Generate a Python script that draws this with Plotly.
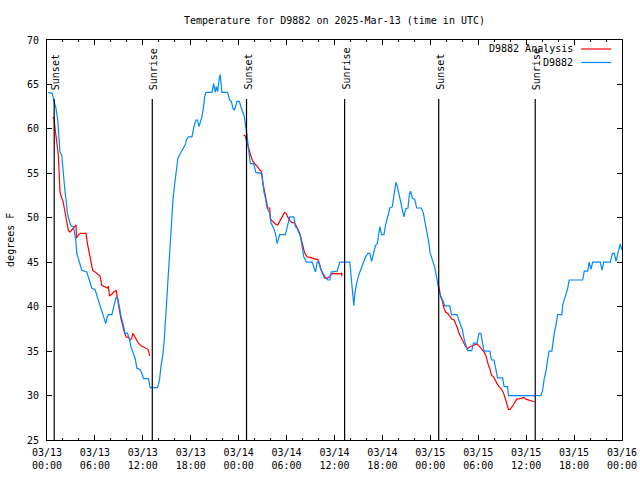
import pandas as pd
import plotly.graph_objects as go

START = "2025-03-13 00:00"

# Observations (hours since start, deg F)
obs_hours = [0.16, 0.66, 0.88, 1.13, 1.34, 1.51, 1.63, 1.84, 1.97, 2.13, 2.26, 2.45, 2.55, 2.82, 2.97,
             3.30, 3.51, 3.60, 3.73, 4.05, 4.35, 4.98, 5.27, 5.61, 6.02, 6.31, 6.65, 7.06, 7.36, 7.49,
             7.69, 8.12, 8.40, 8.66, 8.87, 9.03, 9.28, 9.57, 9.78, 10.07, 10.32, 10.50, 10.75, 11.04,
             11.25, 11.67, 11.88, 12.08, 12.71, 12.92, 13.84, 14.09, 14.26, 14.51, 14.68, 14.93, 15.09,
             15.27, 15.43, 15.62, 15.77, 15.97, 16.14, 16.27, 16.40, 16.60, 16.90, 17.10, 17.31, 17.52,
             17.72, 18.15, 18.28, 18.44, 18.65, 18.85, 19.03, 19.19, 19.41, 19.61, 19.73, 19.91, 20.66,
             20.86, 21.07, 21.20, 21.36, 21.58, 21.68, 21.91, 22.62, 22.87, 23.08, 23.29, 23.46, 23.80,
             24.08, 24.34, 24.55, 24.71, 24.88, 25.05, 25.25, 25.46, 25.88, 26.15, 26.91, 27.03, 27.16,
             27.35, 27.56, 27.89, 28.06, 28.39, 28.60, 28.81, 29.14, 29.85, 30.14, 30.39, 30.90, 31.11,
             31.32, 31.52, 31.74, 31.95, 32.15, 32.49, 33.20, 33.40, 33.62, 33.83, 34.03, 34.25, 34.46,
             34.78, 35.16, 35.41, 35.59, 36.34, 36.67, 37.92, 38.10, 38.26, 38.42, 38.55, 38.76, 39.05,
             39.26, 39.55, 39.89, 40.18, 40.43, 40.64, 40.86, 41.14, 41.36, 41.56, 41.68, 41.90, 42.19,
             42.40, 42.69, 42.94, 43.24, 43.44, 43.69, 43.87, 44.07, 44.28, 44.49, 44.69, 44.91, 45.20,
             45.37, 45.53, 45.75, 46.04, 46.29, 46.88, 47.13, 47.33, 47.63, 47.83, 47.96, 48.17, 48.38,
             48.58, 48.76, 48.88, 49.09, 49.34, 49.57, 49.80, 50.43, 50.65, 51.34, 51.56, 51.81, 52.02,
             52.22, 52.43, 52.66, 53.19, 53.40, 53.85, 54.10, 54.32, 54.53, 54.73, 55.44, 55.66, 55.98,
             56.20, 56.41, 57.04, 57.24, 57.67, 57.79, 61.84, 62.06, 62.26, 62.47, 62.68, 62.88, 63.22,
             63.39, 63.51, 63.73, 63.94, 64.48, 64.57, 64.77, 64.98, 65.19, 65.39, 67.07, 67.28, 67.70,
             67.90, 68.12, 68.33, 69.28, 69.50, 69.71, 70.54, 70.79, 71.04, 71.25, 71.54, 71.79, 71.97]
obs_temp = [64.1, 64.0, 63.1, 62.3, 61.0, 58.75, 57.4, 57.1, 55.6, 53.9, 52.9, 51.5, 50.5, 49.6, 49.1,
            49.0, 47.9, 47.5, 46.0, 44.9, 44.1, 43.9, 43.0, 42.1, 41.9, 41.1, 40.0, 39.1, 38.1, 38.7,
            39.1, 39.1, 40.0, 41.1, 40.9, 40.0, 38.9, 37.9, 37.0, 37.0, 36.4, 35.5, 34.9, 34.2,
            33.1, 32.9, 32.5, 31.9, 31.9, 30.9, 30.9, 31.75, 33.25, 34.6, 36.25, 40.0, 42.25,
            44.5, 47.6, 50.1, 52.0, 53.7, 55.0, 55.75, 56.7, 57.1, 57.6, 58.0, 58.2, 58.9,
            59.1, 59.1, 59.9, 60.4, 61.0, 61.0, 60.25, 60.8, 61.4, 62.5, 63.6, 64.1, 64.1,
            65.1, 64.1, 64.75, 64.2, 65.7, 66.1, 64.1, 64.1, 63.25, 63.1, 62.3, 62.1, 63.1,
            63.1, 62.3, 61.9, 61.4, 60.25, 59.3, 57.6, 56.1, 56.1, 55.1, 55.0, 53.9, 52.9,
            52.2, 51.1, 50.5, 49.4, 48.8, 48.25, 47.1, 48.1, 48.1, 49.4, 50.1, 50.1, 49.0,
            48.8, 48.25, 47.9, 46.75, 45.6, 45.0, 45.0, 44.5, 43.9, 45.0, 45.0, 44.3, 43.9,
            43.4, 43.0, 43.0, 43.9, 44.0, 45.0, 45.0, 43.2, 41.5, 40.1, 41.5, 42.6, 43.6,
            44.1, 44.7, 45.6, 46.0, 46.0, 45.1, 46.0, 46.9, 47.1, 48.1, 49.0, 48.1, 48.1,
            49.2, 50.1, 51.1, 51.25, 52.6, 54.0, 53.5, 52.6, 51.6, 50.7, 50.1, 51.0, 51.1,
            52.6, 53.0, 52.2, 52.1, 51.1, 51.1, 50.5, 49.6, 48.25, 47.1, 46.1, 45.6, 44.9,
            44.3, 43.4, 42.7, 41.8, 41.1, 40.7, 40.1, 40.1, 39.1, 39.1, 38.5, 38.0, 37.4,
            36.4, 35.6, 35.05, 35.05, 35.9, 35.9, 37.0, 37.0, 36.1, 35.0, 35.0, 34.0, 34.0,
            33.1, 32.0, 32.0, 31.0, 31.0, 30.0, 30.0, 30.6, 31.9, 32.7, 34.0, 35.0, 35.0,
            36.25, 37.0, 37.9, 39.1, 39.1, 40.2, 40.8, 41.4, 42.0, 43.0, 43.0, 44.0, 44.0,
            45.0, 44.2, 45.0, 45.0, 44.1, 45.0, 45.0, 46.0, 46.0, 45.1, 46.2, 47.05, 46.4]

# Analysis (hours since start, deg F); None separates the three night segments
ana_hours = [0.72, 0.88, 1.00, 1.22, 1.42, 1.54, 1.63, 1.84, 1.97, 2.13, 2.26, 2.38, 2.55, 2.67, 2.89,
             3.30, 3.64, 3.68, 3.93, 4.20, 4.89, 5.06, 5.31, 5.48, 5.73, 6.02, 6.31, 6.65, 6.86, 7.28,
             7.56, 7.69, 7.82, 8.12, 8.40, 8.66, 8.82, 8.94, 9.07, 9.25, 9.45, 9.66, 9.91, 10.20, 10.41,
             10.62, 10.75, 10.95, 11.25, 11.45, 11.79, 12.08, 12.42, 12.63, 12.76, 12.83, None,
             24.62, 24.84, 24.96, 25.13, 25.38, 25.55, 25.80, 26.09, 26.31, 26.63, 26.84, 27.01, 27.13,
             27.26, 27.43, 27.64, 27.89, 27.97, 28.31, 28.60, 28.89, 29.14, 29.44, 29.73, 29.94, 30.14,
             30.39, 30.69, 30.98, 31.20, 31.45, 31.65, 31.86, 32.08, 32.28, 32.58, 32.99, 33.40, 33.91,
             34.16, 34.33, 34.58, 34.78, 35.09, 35.41, 35.71, 36.13, 36.42, 36.75, 36.88, 36.92, None,
             48.96, 49.09, 49.30, 49.51, 49.71, 49.92, 50.21, 50.46, 50.68, 50.97, 51.18, 51.39, 51.59,
             51.81, 52.02, 52.22, 52.43, 52.69, 52.97, 53.27, 53.56, 53.81, 53.98, 54.23, 54.53, 54.73,
             54.94, 55.07, 55.28, 55.48, 55.66, 55.91, 56.07, 56.32, 56.61, 56.91, 57.16, 57.33, 57.58,
             57.79, 57.99, 58.29, 58.58, 58.83, 59.25, 59.55, 59.75, 59.96, 60.25, 60.59, 61.00]
ana_temp = [61.3, 61.2, 60.1, 58.75, 57.1, 54.6, 52.9, 52.2, 52.0, 51.25, 50.7, 49.9, 49.2, 48.6, 48.4,
            48.8, 49.2, 47.7, 48.1, 48.25, 48.25, 47.1, 46.0, 45.1, 44.05, 43.9, 43.7, 43.45, 42.4, 42.2,
            42.1, 42.3, 41.2, 41.4, 41.7, 41.8, 41.1, 40.3, 39.6, 38.7, 37.75, 37.2, 36.6, 36.55, 36.25,
            36.45, 37.0, 36.7, 36.25, 35.9, 35.6, 35.45, 35.3, 35.2, 34.9, 34.45, None,
            59.3, 59.2, 58.75, 58.2, 57.25, 56.9, 56.3, 56.05, 55.8, 55.4, 55.2, 54.05, 53.5,
            52.6, 51.8, 51.1, 51.1, 49.9, 49.55, 49.3, 49.2, 49.7, 50.1, 50.6, 50.5, 50.1,
            49.7, 49.45, 49.45, 49.1, 48.6, 48.25, 47.5, 46.75, 46.0, 45.6, 45.55, 45.4, 45.3,
            44.7, 44.1, 43.6, 43.2, 43.2, 43.4, 43.75, 43.75, 43.7, 43.7, 43.8, 43.4, None,
            42.7, 41.9, 41.1, 40.6, 39.8, 39.4, 39.2, 38.9, 38.6, 38.5, 38.1, 37.6, 37.0,
            36.6, 36.3, 35.9, 35.5, 35.3, 35.5, 35.6, 35.7, 35.8, 35.7, 35.45, 35.1, 34.9,
            34.55, 34.0, 33.4, 32.9, 32.3, 32.1, 31.75, 31.4, 31.0, 30.7, 30.3, 29.7, 29.05,
            28.45, 28.45, 28.8, 29.2, 29.6, 29.65, 29.7, 29.8, 29.6, 29.5, 29.4, 29.3]

sunset_times = ["2025-03-13 00:54", "2025-03-14 00:59", "2025-03-15 01:03"]
sunrise_times = ["2025-03-13 13:11", "2025-03-14 13:16", "2025-03-15 13:08"]

tick_times = pd.date_range("2025-03-13 00:00", "2025-03-16 00:00", freq="6h")
tick_labels = [t.strftime("%m/%d") + "<br>" + t.strftime("%H:%M") for t in tick_times]
y_ticks = [25, 30, 35, 40, 45, 50, 55, 60, 65, 70]

RED = "#ff0000"
BLUE = "#0088ff"
FONT = "DejaVu Sans Mono"

t0 = pd.Timestamp(START)
def to_time(hours):
    return [None if h is None else t0 + pd.Timedelta(hours=h) for h in hours]

fig = go.Figure()
fig.add_trace(go.Scatter(x=to_time(ana_hours), y=ana_temp, mode="lines", name="D9882 Analysis",
                         line=dict(color=RED, width=1.2), connectgaps=False, showlegend=False))
fig.add_trace(go.Scatter(x=to_time(obs_hours), y=obs_temp, mode="lines", name="D9882",
                         line=dict(color=BLUE, width=1.2), showlegend=False))

for times, label in ((sunset_times, "Sunset"), (sunrise_times, "Sunrise")):
    for t in times:
        fig.add_shape(type="line", xref="x", yref="paper", x0=t, x1=t, y0=0, y1=0.8525,
                      line=dict(color="black", width=1.2))
        fig.add_annotation(x=t, xref="x", y=0.87, yref="paper", text=label, textangle=-90,
                           showarrow=False, xanchor="center", yanchor="bottom", xshift=1,
                           font=dict(family=FONT, size=10, color="black"))

# gnuplot-style legend (text left of sample line)
for name, color, ypos in (("D9882 Analysis", RED, 0.9775), ("D9882", BLUE, 0.9438)):
    fig.add_annotation(x=0.9188, xref="paper", y=ypos, yref="paper", text=name, showarrow=False,
                       xanchor="right", yanchor="middle", font=dict(family=FONT, size=10, color="black"))
    fig.add_shape(type="line", xref="paper", yref="paper", x0=0.929, x1=0.981, y0=ypos, y1=ypos,
                  line=dict(color=color, width=1.2))

fig.add_annotation(x=-0.0645, xref="paper", y=0.5, yref="paper", text="degrees F", textangle=-90,
                   showarrow=False, xanchor="center", yanchor="middle",
                   font=dict(family=FONT, size=10, color="black"))

fig.update_layout(
    width=640, height=480,
    margin=dict(l=47, r=18, t=40, b=40, autoexpand=False),
    paper_bgcolor="white", plot_bgcolor="white",
    font=dict(family=FONT, size=10, color="black"),
    title=dict(text="Temperature for D9882 on 2025-Mar-13 (time in UTC)", x=0.5, xref="paper",
               xanchor="center", y=1 - 20 / 480, yref="container", yanchor="middle",
               font=dict(family=FONT, size=10, color="black")),
    showlegend=False,
)
fig.update_xaxes(range=[tick_times[0], tick_times[-1]], tickvals=list(tick_times), ticktext=tick_labels,
                 ticks="inside", ticklen=5, tickcolor="black", showline=True, linecolor="black",
                 linewidth=1, mirror="allticks", showgrid=False, zeroline=False, automargin=False,
                 ticklabelstandoff=3,
                 minor=dict(dtick=2 * 3600 * 1000, ticks="inside", ticklen=2, tickcolor="black",
                            showgrid=False))
fig.update_yaxes(range=[25, 70], tickvals=y_ticks, ticktext=[str(v) for v in y_ticks],
                 ticks="inside", ticklen=5, tickcolor="black", showline=True, linecolor="black",
                 linewidth=1, mirror="allticks", showgrid=False, zeroline=False, automargin=False,
                 ticklabelstandoff=5)

fig.write_html("out.html", config={"displayModeBar": False},
               post_script="document.body.style.margin='0';")
